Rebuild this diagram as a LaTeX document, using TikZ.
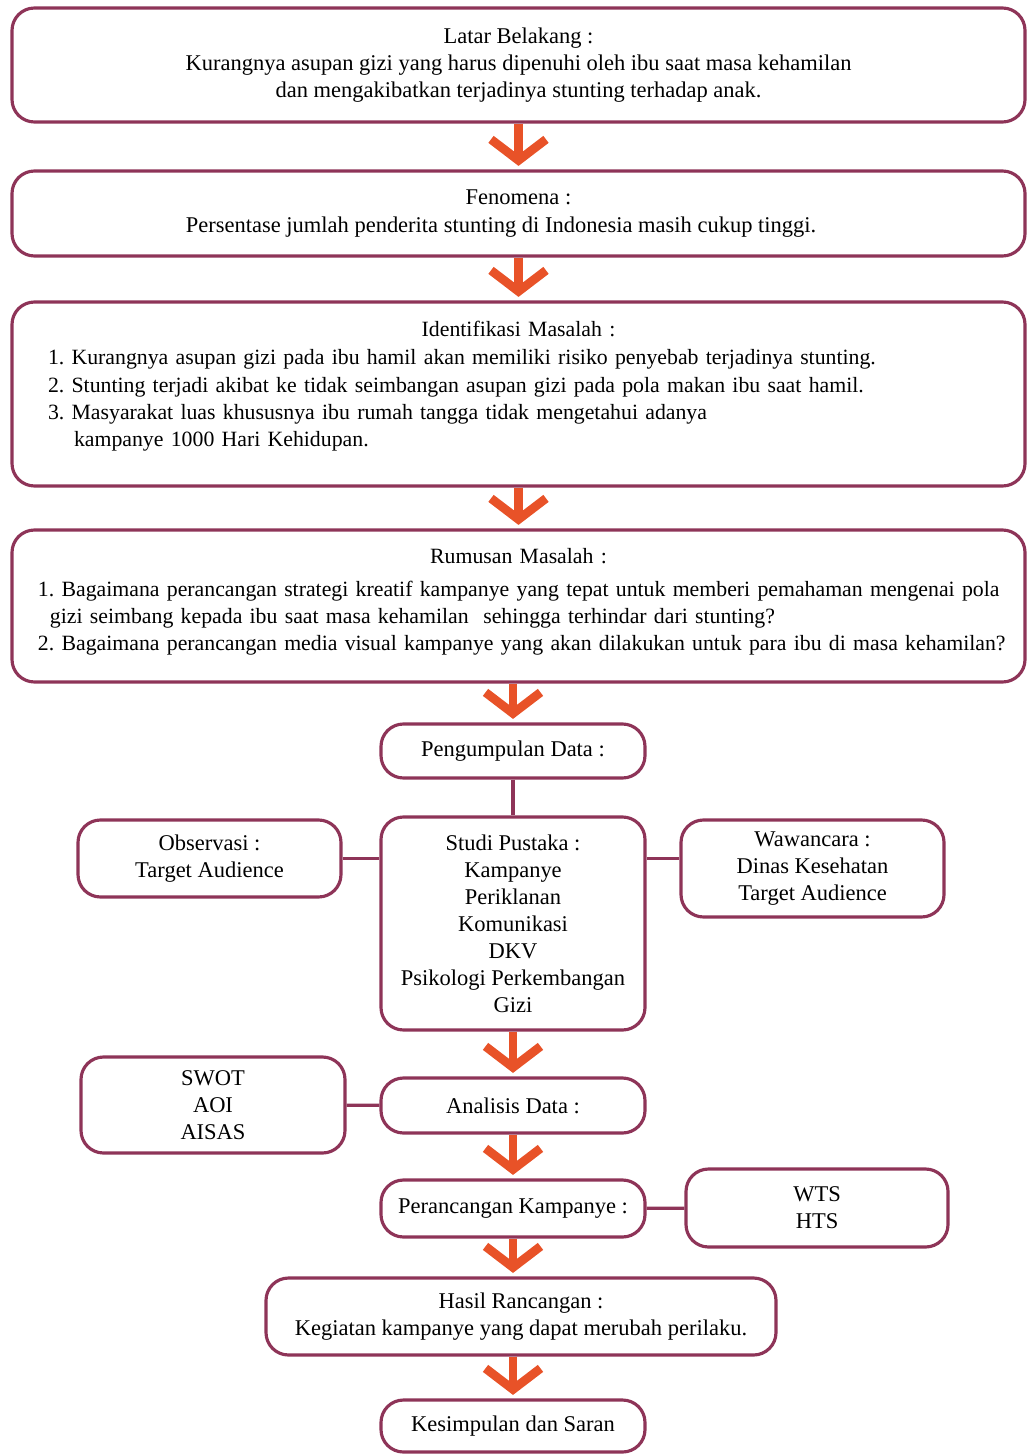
\documentclass[tikz,border=0pt]{standalone}
\usepackage{fontspec}
\setmainfont{Liberation Serif}
\usetikzlibrary{arrows.meta}
\definecolor{boxline}{RGB}{142,52,88}
\definecolor{flowred}{RGB}{232,82,40}
\begin{document}
\begin{tikzpicture}[every node/.style={font=\fontsize{12.8}{15.4}\selectfont\frenchspacing},
box/.style={draw=boxline, line width=1.8pt, rounded corners=0.45cm, align=center, inner sep=0pt},
listbox/.style={box, align=left, font=\fontsize{12.4}{15.4}\selectfont\frenchspacing},
flow/.style={draw=flowred, line width=5pt, shorten >=2pt, -{Straight Barb[length=0.42cm, width=1.1cm]}},
link/.style={draw=boxline, line width=1.8pt}]
\useasboundingbox (0, 0) rectangle (20.54, -29.08);
\node[box, minimum width=20.26cm, minimum height=2.28cm] (e0) at (10.37, -1.3) {Latar Belakang :\\Kurangnya asupan gizi yang harus dipenuhi oleh ibu saat masa kehamilan\\dan mengakibatkan terjadinya stunting terhadap anak.};
\node[box, minimum width=20.26cm, minimum height=1.7cm] (e1) at (10.37, -4.27) {Fenomena :\\[1pt]Persentase jumlah penderita stunting di Indonesia masih cukup tinggi.\hspace*{0.7cm}};
\node[listbox, inner xsep=0.72cm, text width=18.82cm, minimum height=3.68cm] (e2) at (10.37, -7.88) {{\centering Identifikasi Masalah :\par}\vspace{1pt}
1. Kurangnya asupan gizi pada ibu hamil akan memiliki risiko penyebab terjadinya stunting.\\
2. Stunting terjadi akibat ke tidak seimbangan asupan gizi pada pola makan ibu saat hamil.\\
3. Masyarakat luas khususnya ibu rumah tangga tidak mengetahui adanya\\
\hspace*{0.52cm}kampanye 1000 Hari Kehidupan.\rule[-0.42cm]{0pt}{0pt}};
\node[listbox, inner xsep=0.52cm, text width=19.22cm, minimum height=3.04cm] (e3) at (10.37, -12.12) {{\centering Rumusan Masalah :\par}\vspace{0.12cm}
\mbox{1. Bagaimana perancangan strategi kreatif kampanye yang tepat untuk memberi pemahaman mengenai pola}\\
\hspace*{0.24cm}gizi seimbang kepada ibu saat masa kehamilan\ \ sehingga terhindar dari stunting?\\
\mbox{2. Bagaimana perancangan media visual kampanye yang akan dilakukan untuk para ibu di masa kehamilan?}\rule[-0.26cm]{0pt}{0pt}};
\node[box, minimum width=5.28cm, minimum height=1.08cm] (e4) at (10.26, -15.02) {Pengumpulan Data :};
\node[box, minimum width=5.26cm, minimum height=1.54cm] (e5a) at (4.19, -17.17) {Observasi :\\Target Audience};
\node[box, minimum width=5.28cm, minimum height=4.26cm] (e5b) at (10.26, -18.47) {Studi Pustaka :\\Kampanye\\Periklanan\\Komunikasi\\DKV\\Psikologi Perkembangan\\Gizi};
\node[box, minimum width=5.26cm, minimum height=1.94cm] (e5c) at (16.25, -17.37) {Wawancara :\\Dinas Kesehatan\\Target Audience};
\node[box, minimum width=5.28cm, minimum height=1.92cm] (e6a) at (4.26, -22.1) {SWOT\\AOI\\AISAS};
\node[box, minimum width=5.28cm, minimum height=1.1cm] (e6b) at (10.26, -22.11) {Analisis Data :};
\node[box, minimum width=5.28cm, minimum height=1.14cm] (e7a) at (10.26, -24.17) {Perancangan Kampanye :};
\node[box, minimum width=5.24cm, minimum height=1.56cm] (e7b) at (16.34, -24.16) {WTS\\HTS};
\node[box, minimum width=10.2cm, minimum height=1.54cm] (e8) at (10.42, -26.33) {Hasil Rancangan :\\Kegiatan kampanye yang dapat merubah perilaku.};
\node[box, minimum width=5.28cm, minimum height=1.04cm] (e9) at (10.26, -28.52) {Kesimpulan dan Saran};
\draw[link] (e4) -- (e5b);
\draw[link] (e5a.east) -- (e5a.east -| e5b.west);
\draw[link] (e5a.east -| e5b.east) -- (e5a.east -| e5c.west);
\draw[link] (e6a) -- (e6b);
\draw[link] (e7a) -- (e7b);
\draw[flow] (e0) -- (e1);
\draw[flow] (e1) -- (e2);
\draw[flow] (e2) -- (e3);
\draw[flow] (e4.north |- e3.south) -- (e4);
\draw[flow] (e5b) -- (e6b);
\draw[flow] (e6b) -- (e7a);
\draw[flow] (e7a) -- (e7a |- e8.north);
\draw[flow] (e9 |- e8.south) -- (e9);
\end{tikzpicture}
\end{document}
